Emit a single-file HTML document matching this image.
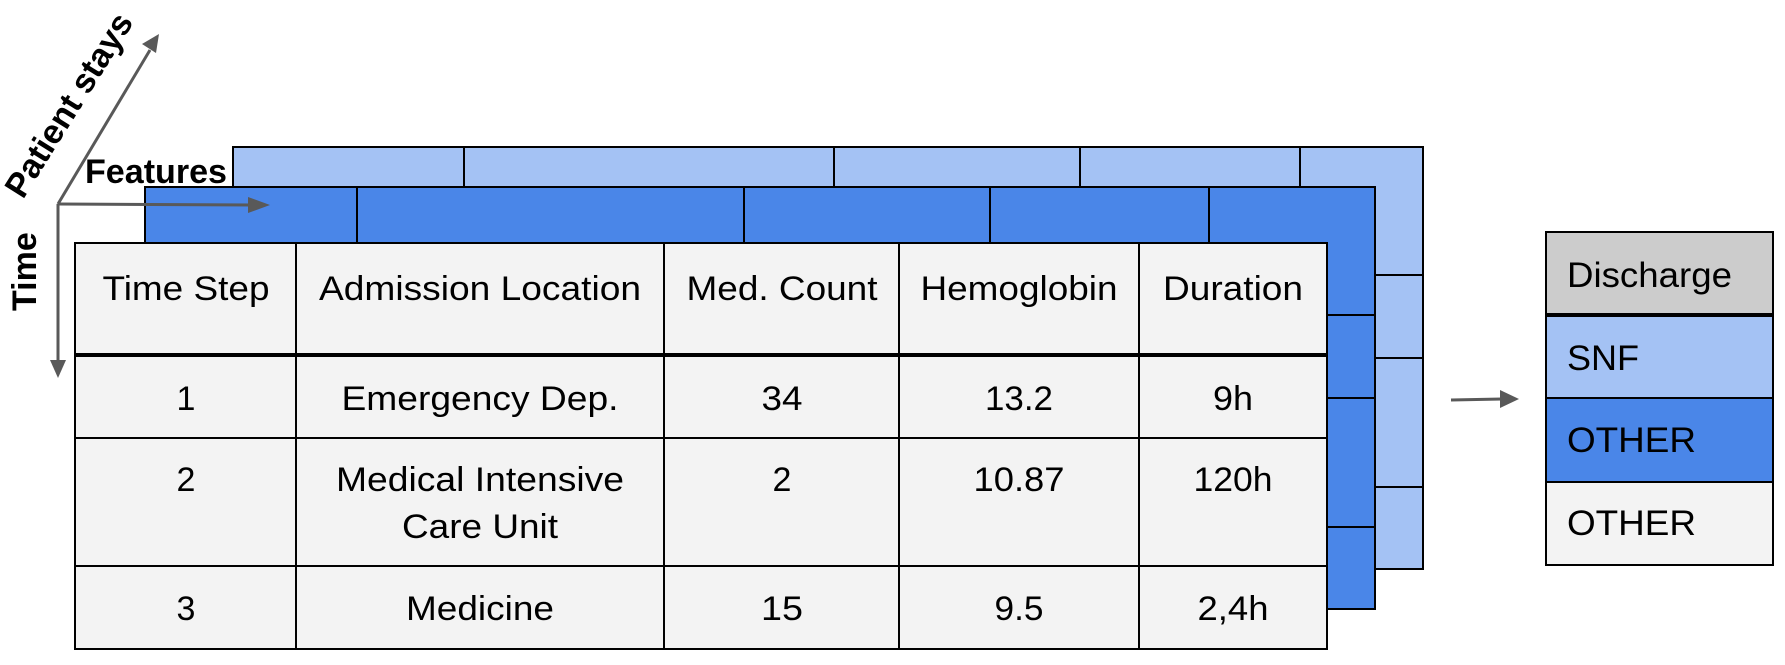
<!DOCTYPE html>
<html><head><meta charset="utf-8"><style>
html,body{margin:0;padding:0;background:#fff;}
svg text{font-family:"Liberation Sans",Arial,sans-serif;fill:#000;}
</style></head><body>
<svg width="1785" height="660" viewBox="0 0 1785 660" xmlns="http://www.w3.org/2000/svg">
<g stroke="#000" stroke-width="2" fill="#a4c2f4">
<rect x="233" y="147" width="1190" height="422"/>
<line x1="464" y1="147" x2="464" y2="187"/>
<line x1="834" y1="147" x2="834" y2="187"/>
<line x1="1080" y1="147" x2="1080" y2="187"/>
<line x1="1300" y1="147" x2="1300" y2="187"/>
<line x1="1375" y1="275" x2="1423" y2="275"/>
<line x1="1375" y1="358" x2="1423" y2="358"/>
<line x1="1375" y1="487" x2="1423" y2="487"/>
</g>
<g stroke="#000" stroke-width="2" fill="#4a86e8">
<rect x="145" y="187" width="1230" height="422"/>
<line x1="357" y1="187" x2="357" y2="243"/>
<line x1="744" y1="187" x2="744" y2="243"/>
<line x1="990" y1="187" x2="990" y2="243"/>
<line x1="1209" y1="187" x2="1209" y2="243"/>
<line x1="1327" y1="315" x2="1375" y2="315"/>
<line x1="1327" y1="398" x2="1375" y2="398"/>
<line x1="1327" y1="527" x2="1375" y2="527"/>
</g>
<g stroke="#000" stroke-width="2" fill="#f3f3f3">
<rect x="75" y="243" width="1252" height="406"/>
<line x1="296" y1="243" x2="296" y2="649"/>
<line x1="664" y1="243" x2="664" y2="649"/>
<line x1="899" y1="243" x2="899" y2="649"/>
<line x1="1139" y1="243" x2="1139" y2="649"/>
<line x1="75" y1="355" x2="1327" y2="355" stroke-width="4"/>
<line x1="75" y1="438" x2="1327" y2="438"/>
<line x1="75" y1="566" x2="1327" y2="566"/>
</g>
<g font-size="34" text-anchor="middle" lengthAdjust="spacingAndGlyphs">
<text x="186" y="300" textLength="167" lengthAdjust="spacingAndGlyphs">Time Step</text>
<text x="480" y="300" textLength="322" lengthAdjust="spacingAndGlyphs">Admission Location</text>
<text x="782" y="300" textLength="191" lengthAdjust="spacingAndGlyphs">Med. Count</text>
<text x="1019" y="300" textLength="197" lengthAdjust="spacingAndGlyphs">Hemoglobin</text>
<text x="1233" y="300" textLength="140" lengthAdjust="spacingAndGlyphs">Duration</text>
<text x="186" y="410">1</text>
<text x="480" y="410" textLength="277" lengthAdjust="spacingAndGlyphs">Emergency Dep.</text>
<text x="782" y="410" textLength="41" lengthAdjust="spacingAndGlyphs">34</text>
<text x="1019" y="410" textLength="68" lengthAdjust="spacingAndGlyphs">13.2</text>
<text x="1233" y="410" textLength="40" lengthAdjust="spacingAndGlyphs">9h</text>
<text x="186" y="491">2</text>
<text x="480" y="491" textLength="288" lengthAdjust="spacingAndGlyphs">Medical Intensive</text>
<text x="480" y="538" textLength="156" lengthAdjust="spacingAndGlyphs">Care Unit</text>
<text x="782" y="491">2</text>
<text x="1019" y="491" textLength="91" lengthAdjust="spacingAndGlyphs">10.87</text>
<text x="1233" y="491" textLength="79" lengthAdjust="spacingAndGlyphs">120h</text>
<text x="186" y="620">3</text>
<text x="480" y="620" textLength="148" lengthAdjust="spacingAndGlyphs">Medicine</text>
<text x="782" y="620" textLength="42" lengthAdjust="spacingAndGlyphs">15</text>
<text x="1019" y="620" textLength="49" lengthAdjust="spacingAndGlyphs">9.5</text>
<text x="1233" y="620" textLength="71" lengthAdjust="spacingAndGlyphs">2,4h</text>
</g>
<g stroke="#595959" stroke-width="3" fill="none">
<line x1="58" y1="204" x2="58" y2="362"/>
<line x1="58" y1="204" x2="252" y2="205"/>
<line x1="58" y1="204" x2="150" y2="50"/>
</g>
<g fill="#595959">
<polygon points="50,360 66,360 58,378"/>
<polygon points="248,197 248,213 270,205"/>
<polygon points="142,44 156,53 159,34"/>
<polygon points="1500,390 1500,408 1519,399"/>
</g>
<line x1="1451" y1="400" x2="1502" y2="399" stroke="#595959" stroke-width="3"/>
<g font-weight="bold" font-size="34">
<text x="85" y="183" textLength="142" lengthAdjust="spacingAndGlyphs">Features</text>
<text transform="translate(36,311) rotate(-90)">Time</text>
<text transform="translate(23,200) rotate(-58)">Patient stays</text>
</g>
<g stroke="#000" stroke-width="2">
<rect x="1546" y="232" width="227" height="83" fill="#cccccc"/>
<rect x="1546" y="315" width="227" height="83" fill="#a4c2f4"/>
<rect x="1546" y="398" width="227" height="84" fill="#4a86e8"/>
<rect x="1546" y="482" width="227" height="83" fill="#f3f3f3"/>
<line x1="1546" y1="315" x2="1773" y2="315" stroke-width="4"/>
</g>
<g font-size="35">
<text x="1567" y="287" textLength="165" lengthAdjust="spacingAndGlyphs">Discharge</text>
<text x="1567" y="370" textLength="72" lengthAdjust="spacingAndGlyphs">SNF</text>
<text x="1567" y="452" textLength="129" lengthAdjust="spacingAndGlyphs">OTHER</text>
<text x="1567" y="535" textLength="129" lengthAdjust="spacingAndGlyphs">OTHER</text>
</g>
</svg>
</body></html>
